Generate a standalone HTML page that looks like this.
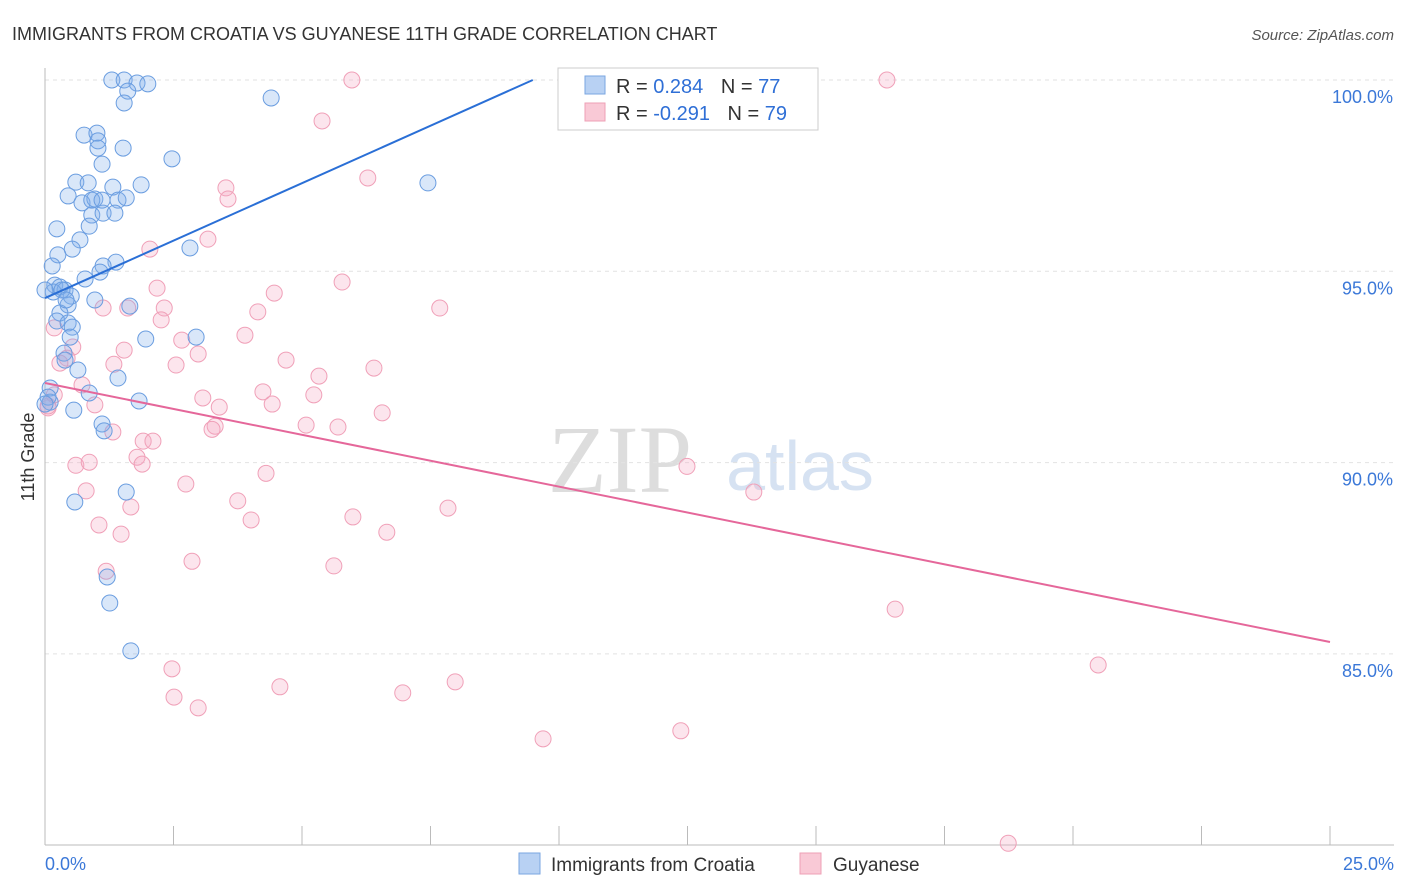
<!DOCTYPE html>
<html><head><meta charset="utf-8">
<style>
body{margin:0;background:#fff;font-family:"Liberation Sans",sans-serif;}
svg{display:block}
</style></head>
<body>
<svg id="c" width="1406" height="892">
<text x="12" y="40" font-size="18" fill="#333">IMMIGRANTS FROM CROATIA VS GUYANESE 11TH GRADE CORRELATION CHART</text>
<text x="1394" y="40" font-size="15" fill="#555" font-style="italic" text-anchor="end">Source: ZipAtlas.com</text>
<text x="620" y="492" font-size="96" fill="#ddd" font-family="Liberation Serif,serif" text-anchor="middle">ZIP</text>
<text x="800" y="490" font-size="70" fill="#d6e2f2" text-anchor="middle">atlas</text>
<text transform="translate(34,457) rotate(-90)" font-size="18" fill="#333" text-anchor="middle">11th Grade</text>
<g id="grid"></g><g id="pts"></g><g id="lines"></g>
<g>
<rect x="558" y="68" width="260" height="62" fill="#fff" stroke="#ccc"/>
<rect x="585" y="76" width="20" height="18" fill="#b8d1f3" stroke="#7aa6e0"/>
<text x="616" y="93" font-size="20" fill="#333">R = <tspan fill="#2f6fd6">0.284</tspan>  <tspan dx="12">N = </tspan><tspan fill="#2f6fd6">77</tspan></text>
<rect x="585" y="103" width="20" height="18" fill="#f9c9d6" stroke="#eea0b6"/>
<text x="616" y="120" font-size="20" fill="#333">R = <tspan fill="#2f6fd6">-0.291</tspan>  <tspan dx="12">N = </tspan><tspan fill="#2f6fd6">79</tspan></text>
</g>
<g>
<rect x="519" y="853" width="21" height="21" fill="#b8d1f3" stroke="#7aa6e0"/>
<text x="551" y="871" font-size="19" fill="#333">Immigrants from Croatia</text>
<rect x="800" y="853" width="21" height="21" fill="#f9c9d6" stroke="#eea0b6"/>
<text x="833" y="871" font-size="19" fill="#333">Guyanese</text>
</g>
</svg>
<script>
const xTicks=[0,2.5,5,7.5,10,12.5,15,17.5,20,22.5,25];
const yTicks=[100,95,90,85];
const yTickLabels=["100.0%","95.0%","90.0%","85.0%"];
const xEndLabels=["0.0%","25.0%"];
const blueX=[1.30,1.54,1.79,2.00,1.61,1.54,4.40,0.76,1.01,1.03,1.52,2.47,1.11,0.60,0.84,1.32,1.87,0.45,0.72,0.97,1.42,1.58,0.91,1.13,1.36,0.23,0.86,0.68,0.53,0.25,2.82,1.38,1.13,0.14,1.07,0.78,0.19,0.29,0.39,0.16,0.51,0.97,1.65,0.45,0.29,0.23,0.45,0.53,0.49,1.96,2.94,0.37,0.64,1.42,0.10,0.86,0.10,1.83,0.56,1.11,1.15,1.58,0.58,1.21,1.26,1.67,7.45,10.31,0.06,0,0.33,1.03,0.41,0.39,0.91,1.11,0];
const blueY=[100,100,99.92,99.90,99.71,99.40,99.53,98.56,98.61,98.41,98.22,97.94,97.80,97.33,97.31,97.20,97.26,96.97,96.79,96.89,96.86,96.92,96.47,96.52,96.52,96.11,96.18,95.82,95.58,95.43,95.61,95.24,95.14,95.14,94.98,94.80,94.64,94.59,94.51,94.46,94.35,94.25,94.09,94.12,93.91,93.70,93.65,93.54,93.28,93.23,93.28,92.86,92.42,92.21,91.95,91.82,91.58,91.61,91.37,91.01,90.83,89.23,88.97,87.01,86.33,85.08,97.31,100,91.71,91.53,94.51,98.22,94.25,92.68,96.86,96.86,94.51];
const pinkX=[5.97,16.38,5.39,6.28,3.52,3.56,3.17,2.04,5.78,2.18,4.46,7.68,1.13,1.61,2.32,2.26,4.14,0.18,3.89,2.66,2.98,1.54,0.54,0.43,0.29,1.34,2.55,4.69,5.33,6.40,0.72,4.24,5.23,0.18,3.07,0.06,0.97,4.42,3.39,6.56,3.31,3.25,5.08,5.70,1.32,1.91,2.10,1.79,1.89,0.60,0.86,4.30,12.49,2.74,0.80,3.75,13.79,7.84,1.67,4.01,5.99,1.05,1.48,6.65,2.86,1.19,5.62,16.54,20.49,2.47,2.51,2.98,4.57,6.96,7.98,9.69,12.37,18.74,0.06];
const pinkY=[100,100,98.93,97.44,97.18,96.89,95.84,95.58,94.72,94.56,94.43,94.04,94.04,94.04,94.04,93.73,93.94,93.52,93.33,93.2,92.84,92.94,93.02,92.73,92.6,92.57,92.55,92.68,92.26,92.47,92.03,91.85,91.77,91.77,91.69,91.43,91.51,91.53,91.45,91.3,90.95,90.87,90.98,90.93,90.8,90.56,90.56,90.14,89.96,89.93,90.01,89.72,89.9,89.44,89.26,89.0,89.23,88.81,88.84,88.5,88.58,88.37,88.13,88.18,87.42,87.16,87.3,86.17,84.71,84.61,83.87,83.59,84.14,83.98,84.27,82.78,82.99,80.05,91.48];
const blueLine=[[0,94.30],[9.49,100]];
const pinkLine=[[0,92.08],[25,85.31]];
const NS="http://www.w3.org/2000/svg";
const X=v=>45+v/25*1285, Y=v=>80+(100-v)/5*191.3;
function mk(t,a,p){const e=document.createElementNS(NS,t);for(const k in a)e.setAttribute(k,a[k]);p.appendChild(e);return e;}
const grid=document.getElementById('grid');
yTicks.forEach((t,i)=>{
 const l=mk('line',{x1:45,x2:1394,y1:Y(t),y2:Y(t),stroke:'#e2e2e2','stroke-dasharray':'4,4'},grid);
 
 
 const tx=mk('text',{x:1393,y:Y(t)+23,'font-size':18,fill:'#3b78d8','text-anchor':'end'},grid);tx.textContent=yTickLabels[i];
 
 
});
const ax=mk('line',{x1:45,x2:1394,y1:845,y2:845,stroke:'#bbb'},grid);


const ay=mk('line',{x1:45,x2:45,y1:68,y2:845,stroke:'#bbb'},grid);


xTicks.forEach(t=>{const l=mk('line',{x1:X(t),x2:X(t),y1:826,y2:845,stroke:'#bbb'},grid);
 
 });
[[0,'start'],[25,'end']].forEach((p,i)=>{const tx=mk('text',{x:X(p[0])+(i?64:0),y:870,'font-size':18,fill:'#3b78d8','text-anchor':p[1]},grid);tx.textContent=xEndLabels[i];
 
 });
const pts=document.getElementById('pts');
pinkX.forEach((x,i)=>{const c=mk('circle',{cx:X(x),cy:Y(pinkY[i]),r:8,fill:'rgba(246,170,195,0.3)',stroke:'#f0a0b8','stroke-width':1},pts);
 
 });
blueX.forEach((x,i)=>{const c=mk('circle',{cx:X(x),cy:Y(blueY[i]),r:8,fill:'rgba(130,175,235,0.3)',stroke:'#6a9de0','stroke-width':1},pts);
 
 });
const lines=document.getElementById('lines');
const bl=mk('line',{x1:X(blueLine[0][0]),y1:Y(blueLine[0][1]),x2:X(blueLine[1][0]),y2:Y(blueLine[1][1]),stroke:'#2a6fd6','stroke-width':2},lines);


const pl=mk('line',{x1:X(pinkLine[0][0]),y1:Y(pinkLine[0][1]),x2:X(pinkLine[1][0]),y2:Y(pinkLine[1][1]),stroke:'#e5679a','stroke-width':2},lines);


</script>
</body></html>
